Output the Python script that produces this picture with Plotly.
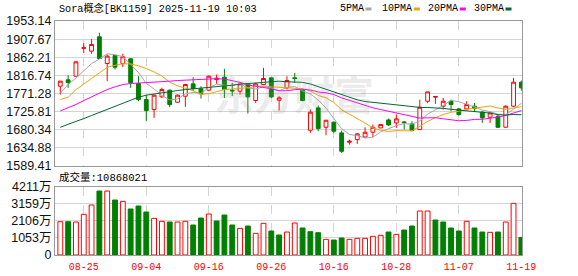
import plotly.graph_objects as go

# ---------------- data ----------------
dates = ["08-20", "08-21", "08-22", "08-25", "08-26", "08-27", "08-28", "08-29", "09-01", "09-02",
         "09-03", "09-04", "09-05", "09-08", "09-09", "09-10", "09-11", "09-12", "09-15", "09-16",
         "09-17", "09-18", "09-19", "09-22", "09-23", "09-24", "09-25", "09-26", "09-29", "09-30",
         "10-09", "10-10", "10-13", "10-14", "10-15", "10-16", "10-17", "10-20", "10-21", "10-22",
         "10-23", "10-24", "10-27", "10-28", "10-29", "10-30", "10-31", "11-03", "11-04", "11-05",
         "11-06", "11-07", "11-10", "11-11", "11-12", "11-13", "11-14", "11-17", "11-18", "11-19"]

opens = [1789.6, 1805.5, 1814.7, 1884.5, 1877.5, 1913.5, 1846.6, 1866.6, 1846.6, 1858.3,
         1796.3, 1756.1, 1731.0, 1762.8, 1779.6, 1749.4, 1764.5, 1795.5, 1782.9, 1779.6,
         1806.4, 1812.2, 1779.6, 1777.1, 1795.5, 1753.6, 1793.8, 1810.5, 1754.4, 1785.4,
         1810.5, 1781.2, 1679.1, 1735.2, 1686.6, 1699.2, 1672.4, 1648.9, 1655.6, 1662.3,
         1674.1, 1684.9, 1705.0, 1697.5, 1700.0, 1695.0, 1680.8, 1751.9, 1762.0, 1739.4,
         1751.9, 1732.7, 1732.7, 1739.4, 1724.4, 1711.7, 1714.2, 1686.6, 1739.4, 1799.7]
highs = [1803.0, 1817.2, 1851.5, 1897.6, 1907.7, 1923.6, 1869.2, 1869.0, 1870.8, 1859.0,
         1814.7, 1767.0, 1768.7, 1785.4, 1781.2, 1768.7, 1795.5, 1812.2, 1789.6, 1816.4,
         1818.9, 1833.1, 1798.0, 1799.7, 1796.3, 1798.0, 1835.7, 1812.2, 1764.5, 1814.7,
         1823.1, 1782.9, 1731.0, 1741.0, 1704.2, 1701.7, 1678.2, 1655.6, 1672.4, 1686.6,
         1693.3, 1693.3, 1708.4, 1718.4, 1701.7, 1701.7, 1756.1, 1775.4, 1765.3, 1760.3,
         1756.1, 1735.2, 1751.9, 1747.7, 1726.9, 1724.4, 1718.4, 1741.9, 1810.5, 1803.8]
lows = [1768.7, 1785.4, 1813.9, 1872.5, 1870.8, 1858.0, 1802.2, 1831.5, 1837.3, 1785.4,
        1751.9, 1701.7, 1710.1, 1760.3, 1736.9, 1747.7, 1737.7, 1777.1, 1758.6, 1777.1,
        1795.5, 1760.3, 1765.0, 1768.7, 1721.0, 1747.7, 1793.0, 1760.3, 1728.5, 1781.2,
        1798.0, 1751.9, 1672.4, 1676.6, 1666.5, 1672.4, 1622.2, 1643.1, 1644.8, 1659.8,
        1661.5, 1684.9, 1690.0, 1684.9, 1680.8, 1676.6, 1680.8, 1746.9, 1745.2, 1731.0,
        1726.9, 1716.0, 1731.0, 1726.9, 1697.5, 1697.5, 1684.9, 1686.6, 1736.9, 1778.7]
closes = [1802.2, 1798.8, 1850.7, 1886.0, 1894.3, 1859.1, 1865.0, 1837.3, 1863.3, 1798.0,
          1756.1, 1728.5, 1767.0, 1781.2, 1743.6, 1767.0, 1793.8, 1783.7, 1770.4, 1814.7,
          1809.7, 1781.2, 1778.0, 1795.5, 1762.8, 1795.5, 1808.9, 1762.8, 1760.3, 1803.8,
          1808.9, 1753.6, 1724.4, 1683.3, 1704.2, 1676.6, 1626.3, 1651.4, 1669.9, 1674.1,
          1686.6, 1693.3, 1692.5, 1707.6, 1698.3, 1678.2, 1736.9, 1775.4, 1763.7, 1751.9,
          1743.6, 1718.4, 1743.6, 1733.5, 1710.1, 1722.6, 1686.6, 1739.4, 1799.7, 1785.4]

# volume in 万 (10k)
volumes = [2054, 2054, 2033, 2506, 3081, 3944, 3944, 3389, 3307, 2835,
           3019, 2650, 2259, 2075, 2033, 2033, 2075, 1849, 2280, 2526,
           2095, 2465, 1849, 1643, 1787, 1335, 1951, 1479, 1232, 1417,
           1972, 1664, 1438, 1376, 965, 924, 1048, 965, 1027, 1027,
           1150, 1212, 1417, 1273, 1541, 1787, 2711, 2711, 2157, 2033,
           1664, 1479, 2075, 1664, 1417, 1397, 1417, 2033, 3184, 1086.8021]
first_vol_up = True

# moving-average values before a full window is visible
ma5_head = [1772, 1794, 1810, 1829]
ma10_head = [1756, 1762, 1781, 1796, 1809, 1823, 1837, 1842, 1846]
ma20_head = [1727.6, 1735.2, 1743.6, 1753.6, 1762.8, 1772.9, 1781.2, 1788.0, 1793.8, 1796.3,
             1797.1, 1798.0, 1798.8, 1800.5, 1802.2, 1803.8, 1804.7, 1805.5, 1806.4]
ma30_head = [1686.6, 1693.3, 1700.9, 1708.4, 1716.0, 1723.5, 1731.0, 1738.5, 1745.2, 1753.6,
             1762.0, 1767.0, 1770.4, 1772.9, 1776.2, 1778.7, 1781.2, 1782.9, 1783.7, 1785.4,
             1787.1, 1789.6, 1792.1, 1794.6, 1796.3, 1797.1, 1799.7, 1801.3, 1802.2]

price_ticks = [1953.14, 1907.67, 1862.21, 1816.74, 1771.28, 1725.81, 1680.34, 1634.88, 1589.41]
vol_ticks = [0, 1053, 2106, 3159, 4211]
vol_tick_text = ["0", "1053万", "2106万", "3159万", "4211万"]
date_ticks = ["08-25", "09-04", "09-16", "09-26", "10-16", "10-28", "11-07", "11-19"]

title_text = "Sora概念[BK1159] 2025-11-19 10:03"
vol_label = "成交量:10868021"
ma_names = ["5PMA", "10PMA", "20PMA", "30PMA"]
ma_colors = ["#a6a6a6", "#f0a30a", "#ff00ff", "#006633"]

RED = "#ff0000"
GREEN = "#008000"


def moving_average(n, head):
    out = list(head)
    for i in range(len(head), len(closes)):
        out.append(sum(closes[i - n + 1:i + 1]) / n)
    return out


mas = [moving_average(5, ma5_head), moving_average(10, ma10_head),
       moving_average(20, ma20_head), moving_average(30, ma30_head)]

vol_up = [first_vol_up] + [closes[i] >= closes[i - 1] for i in range(1, len(closes))]

fig = go.Figure()

fig.add_trace(go.Candlestick(
    x=dates, open=opens, high=highs, low=lows, close=closes,
    increasing=dict(line=dict(color=RED, width=1), fillcolor="#ffffff"),
    decreasing=dict(line=dict(color=GREEN, width=1), fillcolor=GREEN),
    whiskerwidth=0, hoverinfo="skip", showlegend=False, xaxis="x", yaxis="y"))

for vals, col in zip(mas, ma_colors):
    fig.add_trace(go.Scatter(x=dates, y=vals, mode="lines",
                             line=dict(color=col, width=1), hoverinfo="skip",
                             showlegend=False, xaxis="x", yaxis="y"))

fig.add_trace(go.Bar(
    x=dates, y=volumes, width=0.62,
    marker=dict(color=["#ffffff" if u else GREEN for u in vol_up],
                line=dict(color=[RED if u else GREEN for u in vol_up], width=1)),
    hoverinfo="skip", showlegend=False, xaxis="x2", yaxis="y2"))

W, H = 578, 276
L, R, T, B = 55, 56, 21, 21
PW, PH = W - L - R, H - T - B


def px(xp):
    return (xp - L) / PW


def py(yp):
    return (H - B - yp) / PH


GRID = "#d4d4d4"
AX = "#999999"
xr = [-0.68, len(dates) - 1 + 0.08]

common_x = dict(type="category", range=xr, tickvals=date_ticks, showgrid=True,
                gridcolor=GRID, griddash="dash", gridwidth=1, showline=True,
                linecolor=AX, mirror=True, zeroline=False, ticks="",
                fixedrange=True, automargin=False)

fig.update_layout(
    width=W, height=H, margin=dict(l=L, r=R, t=T, b=B, pad=0),
    paper_bgcolor="#ffffff", plot_bgcolor="#ffffff",
    showlegend=False, bargap=0.3,
    xaxis=dict(common_x, domain=[0, 1], anchor="y", showticklabels=False,
               rangeslider=dict(visible=False)),
    xaxis2=dict(common_x, domain=[0, 1], anchor="y2", showticklabels=True,
                ticklabelstandoff=2,
                tickfont=dict(family="Liberation Mono", size=10, color=RED)),
    yaxis=dict(domain=[py(166), 1], range=[price_ticks[-1], price_ticks[0]],
               tickvals=price_ticks, ticktext=[f"{v:.2f}" for v in price_ticks],
               showgrid=True, gridcolor=GRID, showline=True, linecolor=AX,
               mirror=True, zeroline=False, ticks="", automargin=False,
               ticklabelstandoff=0,
               tickfont=dict(family="Liberation Sans", size=12.5, color="#111111")),
    yaxis2=dict(domain=[0, py(186.7)], range=[0, vol_ticks[-1]],
                tickvals=vol_ticks, ticktext=vol_tick_text,
                showgrid=True, gridcolor=GRID, showline=True, linecolor=AX,
                mirror=True, zeroline=False, ticks="", automargin=False,
                ticklabelstandoff=0,
                tickfont=dict(family="Liberation Sans, Noto Sans CJK SC", size=12.5,
                              color="#111111")),
)

TXT_FONT = "Liberation Mono, Noto Sans CJK SC"
ann = [
    dict(text=title_text, x=px(57), y=py(8.5), xref="paper", yref="paper",
         xanchor="left", yanchor="middle", showarrow=False,
         font=dict(family=TXT_FONT, size=10.2, color="#000000")),
    dict(text=vol_label, x=px(57), y=py(177), xref="paper", yref="paper",
         xanchor="left", yanchor="middle", showarrow=False,
         font=dict(family=TXT_FONT, size=10.5, color="#000000")),
    dict(text="东方财富", x=px(294), y=py(93), xref="paper", yref="paper",
         xanchor="center", yanchor="middle", showarrow=False,
         font=dict(family="Noto Sans CJK SC", size=40, weight="bold",
                   color="rgba(150,150,150,0.2)")),
]
legend_x = [338.3, 380, 425.7, 471.7]
marker_x = [365.5, 413.8, 459.8, 505.5]
shapes = []
for name, col, lx, mx in zip(ma_names, ma_colors, legend_x, marker_x):
    ann.append(dict(text=name, x=px(lx), y=py(9), xref="paper", yref="paper",
                    xanchor="left", yanchor="middle", showarrow=False,
                    font=dict(family=TXT_FONT, size=10, color="#000000")))
    shapes.append(dict(type="rect", xref="paper", yref="paper",
                       x0=px(mx), x1=px(mx + 6), y0=py(10.5), y1=py(7.5),
                       line=dict(width=0), fillcolor=col))
fig.update_layout(annotations=ann, shapes=shapes)

fig.write_html("out.html")
